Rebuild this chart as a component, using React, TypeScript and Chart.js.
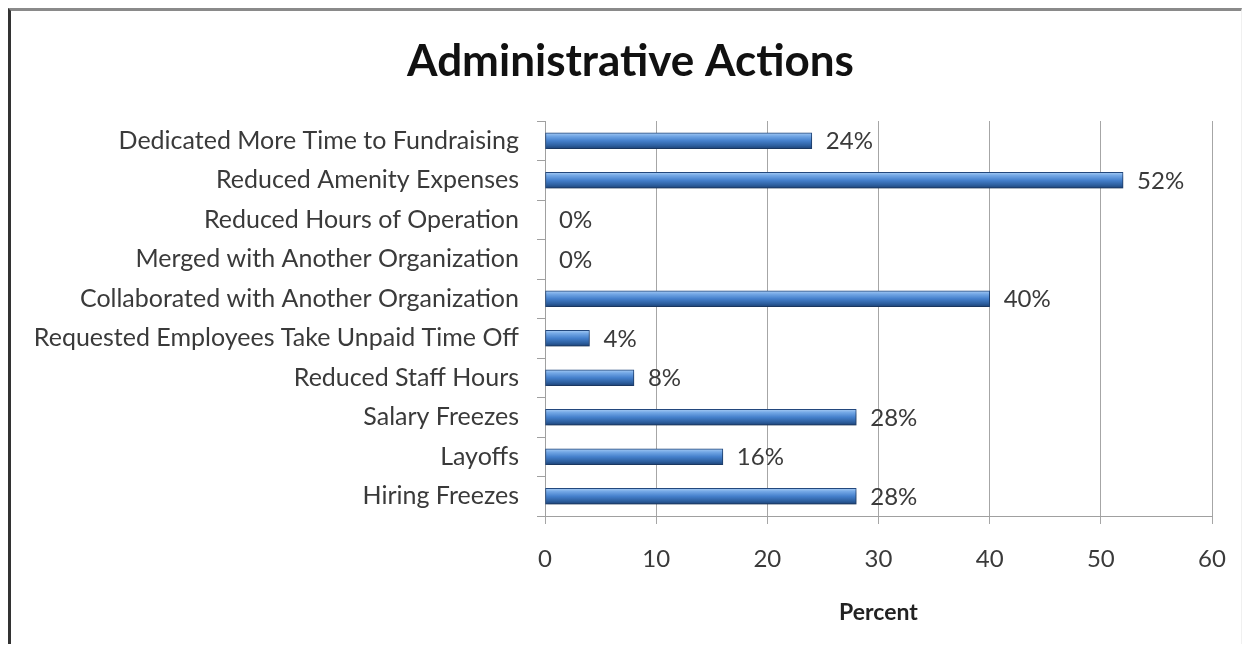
import React, { useEffect, useRef } from "react";
import { Chart, registerables } from "chart.js";

Chart.register(...registerables);

const categories = [
  "Dedicated More Time to Fundraising",
  "Reduced Amenity Expenses",
  "Reduced Hours of Operation",
  "Merged with Another Organization",
  "Collaborated with Another Organization",
  "Requested Employees Take Unpaid Time Off",
  "Reduced Staff Hours",
  "Salary Freezes",
  "Layoffs",
  "Hiring Freezes",
];
const percentValues = [24, 52, 0, 0, 40, 4, 8, 28, 16, 28];
const xMin = 0;
const xMax = 60;
const xStep = 10;
const chartTitle = "Administrative Actions";
const xAxisTitle = "Percent";

const FONT = "Lato, 'Open Sans', sans-serif";
const CANVAS_W = 1231;
const CANVAS_H = 633;

const titlePlugin = {
  id: "centeredTitle",
  afterDraw(chart: any) {
    const ctx = chart.ctx;
    ctx.save();
    ctx.font = `bold 44px ${FONT}`;
    ctx.fillStyle = "#111";
    ctx.textAlign = "center";
    ctx.textBaseline = "middle";
    ctx.fillText(chartTitle, chart.width / 2 + 4, 51);
    ctx.restore();
  },
};

const shadowPlugin = {
  id: "barShadow",
  beforeDatasetsDraw(chart: any) {
    const ctx = chart.ctx;
    ctx.save();
    ctx.shadowColor = "rgba(0,0,0,0.28)";
    ctx.shadowBlur = 4;
    ctx.shadowOffsetX = 1;
    ctx.shadowOffsetY = 3;
  },
  afterDatasetsDraw(chart: any) {
    chart.ctx.restore();
  },
};

const valueLabelPlugin = {
  id: "valueLabels",
  afterDatasetsDraw(chart: any) {
    const ctx = chart.ctx;
    const meta = chart.getDatasetMeta(0);
    ctx.save();
    ctx.font = `24px ${FONT}`;
    ctx.fillStyle = "#3a3a3a";
    ctx.textBaseline = "middle";
    ctx.textAlign = "left";
    meta.data.forEach((el: any, i: number) => {
      const p = el.getProps(["x", "y"], true);
      ctx.fillText(percentValues[i] + "%", p.x + 14, p.y + 1);
    });
    ctx.restore();
  },
};

function barGradient(context: any) {
  const chart = context.chart;
  if (!chart.chartArea || !chart.scales || !chart.scales.y) return "#4a7fc4";
  const y = chart.scales.y.getPixelForValue(context.dataIndex);
  const h = 16;
  const g = chart.ctx.createLinearGradient(0, y - h / 2, 0, y + h / 2);
  g.addColorStop(0, "#a8ccf4");
  g.addColorStop(0.2, "#74a8e6");
  g.addColorStop(0.5, "#4580cc");
  g.addColorStop(0.8, "#2d5f9f");
  g.addColorStop(1, "#1d4276");
  return g;
}

export default function App() {
  const canvasRef = useRef<HTMLCanvasElement | null>(null);

  useEffect(() => {
    if (!canvasRef.current) return;
    const chart = new Chart(canvasRef.current, {
      type: "bar",
      data: {
        labels: categories,
        datasets: [
          {
            data: percentValues,
            backgroundColor: barGradient as any,
            borderColor: "#23497f",
            borderWidth: 1,
            borderSkipped: false,
            barThickness: 16,
          },
        ],
      },
      plugins: [shadowPlugin, valueLabelPlugin, titlePlugin],
      options: {
        responsive: false,
        animation: false,
        indexAxis: "y",
        layout: { padding: { left: 0, right: 30, top: 110, bottom: 0 } },
        plugins: {
          legend: { display: false },
          tooltip: { enabled: false },
          title: { display: false },
        },
        scales: {
          x: {
            min: xMin,
            max: xMax,
            ticks: {
              stepSize: xStep,
              color: "#3a3a3a",
              font: { family: FONT, size: 24 },
              padding: 21,
            },
            grid: {
              color: "#a6a6a6",
              tickLength: 8,
              lineWidth: 1,
            },
            border: { display: true, color: "#a0a0a0" },
            title: {
              display: true,
              text: xAxisTitle,
              color: "#222",
              font: { family: FONT, size: 23, weight: "bold", lineHeight: 1.2 },
              padding: { top: 0, bottom: 18 },
            },
            afterFit(scale: any) {
              scale.height = 128;
              scale.paddingRight = 0;
              scale.paddingLeft = 0;
            },
          },
          y: {
            ticks: {
              color: "#3a3a3a",
              font: { family: FONT, size: 25 },
              padding: 18,
            },
            grid: {
              offset: true,
              drawOnChartArea: false,
              drawTicks: true,
              tickLength: 8,
              color: "#a0a0a0",
            },
            border: { display: true, color: "#a0a0a0" },
            afterFit(scale: any) {
              scale.width = 534;
            },
          },
        },
      } as any,
    });
    return () => chart.destroy();
  }, []);

  return (
    <div
      style={{
        width: 1234,
        height: 636,
        boxSizing: "border-box",
        borderLeft: "3px solid #333",
        borderTop: "3px solid #8a8a8a",
        borderRight: "1px solid #f0f0f0",
        background: "#fff",
        overflow: "hidden",
      }}
    >
      <canvas ref={canvasRef} width={CANVAS_W} height={CANVAS_H} style={{ display: "block" }} />
    </div>
  );
}
